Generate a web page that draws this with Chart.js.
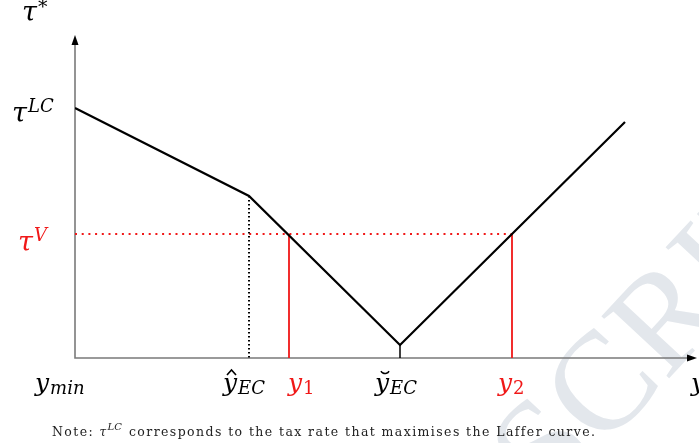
<!DOCTYPE html>
<html>
<head>
<meta charset="utf-8">
<script src="https://cdn.jsdelivr.net/npm/chart.js@4"></script>
<style>
  html, body { margin: 0; padding: 0; background: #fff; }
  #wrap { width: 699px; height: 443px; }
</style>
</head>
<body>
<div id="wrap"><canvas id="laffer"></canvas></div>
<script>
// values (axis units, origin at y_min / 0)
const curveX = [0, 174, 325, 550];
const curveY = [250, 162, 13, 236];
const tauLC = 250;
const tauV = 124;
const yHatEC = 174;
const yBrevEC = 325;
const y1 = 214;
const y2 = 437;
const xMax = 622;
const yMax = 323;

const serif = "'DejaVu Serif', 'Liberation Serif', serif";
const red = '#f01818';

const seg = (xa, ya, xb, yb) => [{x: xa, y: ya}, {x: xb, y: yb}];

const data = {
  datasets: [{
    label: 'tau*',
    data: curveX.map((x, i) => ({x: x, y: curveY[i]})),
    borderColor: '#000',
    borderWidth: 2.2
  }, {
    label: 'min tick',
    data: seg(yBrevEC, 13, yBrevEC, 0),
    borderColor: '#000',
    borderWidth: 1.5
  }, {
    label: 'yhat',
    data: seg(yHatEC, 162, yHatEC, 0),
    borderColor: '#000',
    borderWidth: 2,
    borderDash: [1.5, 2.5]
  }, {
    label: 'tauV',
    data: seg(0, tauV, y2, tauV),
    borderColor: red,
    borderWidth: 2,
    borderDash: [2, 4.7]
  }, {
    label: 'y1',
    data: seg(y1, tauV, y1, 0),
    borderColor: red,
    borderWidth: 1.8
  }, {
    label: 'y2',
    data: seg(y2, tauV, y2, 0),
    borderColor: red,
    borderWidth: 1.8
  }]
};

// draw pieces of math text: [text, size, dy, italic, gapAfter]
function mathText(ctx, parts, x, y, color) {
  ctx.fillStyle = color;
  ctx.textBaseline = 'alphabetic';
  ctx.textAlign = 'left';
  let cx = x;
  parts.forEach(p => {
    ctx.font = (p[3] === false ? '' : 'italic ') + p[1] + 'px ' + serif;
    ctx.fillText(p[0], cx, y + p[2]);
    cx += ctx.measureText(p[0]).width + (p[4] || 0);
  });
}

const axesPlugin = {
  id: 'axesPlugin',
  beforeDraw(chart) {
    const ctx = chart.ctx;
    // faint watermark
    ctx.save();
    ctx.translate(522, 482);
    ctx.rotate(-47 * Math.PI / 180);
    ctx.font = '140px ' + "'Liberation Serif', serif";
    ctx.fillStyle = '#e3e7ec';
    ctx.textBaseline = 'middle';
    ctx.fillText('SCRIPT', 0, 0);
    ctx.restore();
  },
  beforeDatasetsDraw(chart) {
    const ctx = chart.ctx;
    const xs = chart.scales.x, ys = chart.scales.y;
    const x0 = xs.getPixelForValue(0), yb = ys.getPixelForValue(0);
    const yt = ys.getPixelForValue(yMax), xr = xs.getPixelForValue(xMax);
    ctx.save();
    ctx.strokeStyle = '#7a7a7a';
    ctx.lineWidth = 1.6;
    ctx.beginPath();
    ctx.moveTo(x0, yt + 6);
    ctx.lineTo(x0, yb);
    ctx.lineTo(xr - 6, yb);
    ctx.stroke();
    ctx.fillStyle = '#000';
    ctx.beginPath();
    ctx.moveTo(x0, yt);
    ctx.lineTo(x0 - 3.5, yt + 10);
    ctx.lineTo(x0 + 3.5, yt + 10);
    ctx.closePath();
    ctx.fill();
    ctx.beginPath();
    ctx.moveTo(xr, yb);
    ctx.lineTo(xr - 10, yb - 3.5);
    ctx.lineTo(xr - 10, yb + 3.5);
    ctx.closePath();
    ctx.fill();
    ctx.restore();
  },
  afterDraw(chart) {
    const ctx = chart.ctx;
    const xs = chart.scales.x, ys = chart.scales.y;
    ctx.save();
    const lblY = 391;
    // y axis labels
    mathText(ctx, [['τ', 27, 0, true, 1], ['*', 19, -8]], 22, 21, '#000');
    mathText(ctx, [['τ', 27, 0, true, 1], ['LC', 18, -10]], 12, ys.getPixelForValue(tauLC) + 14, '#000');
    mathText(ctx, [['τ', 27, 0, true, 1], ['V', 18, -10]], 18, ys.getPixelForValue(tauV) + 17, red);
    // x axis labels
    mathText(ctx, [['y', 25, 0, true, 1], ['min', 18, 3]], 35, lblY, '#000');
    const hx = xs.getPixelForValue(yHatEC) - 26;
    mathText(ctx, [['y', 25, 0, true, 1], ['EC', 18, 3]], hx, lblY, '#000');
    mathText(ctx, [['y', 25, 0, true, 1], ['1', 18, 3, false]], xs.getPixelForValue(y1) - 1, lblY, red);
    const bx = xs.getPixelForValue(yBrevEC) - 25;
    mathText(ctx, [['y', 25, 0, true, 1], ['EC', 18, 3]], bx, lblY, '#000');
    mathText(ctx, [['y', 25, 0, true, 1], ['2', 18, 3, false]], xs.getPixelForValue(y2) - 14, lblY, red);
    mathText(ctx, [['y', 25, 0]], 691, lblY, '#000');
    // hat and breve accents
    ctx.strokeStyle = '#000';
    ctx.lineWidth = 1.6;
    ctx.beginPath();
    ctx.moveTo(hx + 4, lblY - 16);
    ctx.lineTo(hx + 8.5, lblY - 21);
    ctx.lineTo(hx + 13, lblY - 16);
    ctx.stroke();
    ctx.beginPath();
    ctx.arc(bx + 10, lblY - 22, 4.5, 0.15 * Math.PI, 0.85 * Math.PI);
    ctx.stroke();
    // note under the figure
    ctx.fillStyle = '#222';
    ctx.font = '12.5px ' + serif;
    const pre = 'Note: ', post = ' corresponds to the tax rate that maximises the Laffer curve.';
    const target = 544;
    const raw = ctx.measureText(pre + post).width + 24;
    const ls = (target - raw) / (pre.length + post.length);
    ctx.letterSpacing = ls + 'px';
    ctx.fillText(pre, 52, 436);
    let nx = 52 + ctx.measureText(pre).width;
    ctx.letterSpacing = '0px';
    ctx.font = 'italic 12px ' + serif;
    ctx.fillText('τ', nx, 436);
    ctx.font = 'italic 10px ' + serif;
    ctx.fillText('LC', nx + 8, 430);
    nx += 24;
    ctx.font = '12.5px ' + serif;
    ctx.letterSpacing = ls + 'px';
    ctx.fillText(post, nx, 436);
    ctx.restore();
  }
};

new Chart(document.getElementById('laffer').getContext('2d'), {
  type: 'line',
  data: data,
  options: {
    responsive: true,
    maintainAspectRatio: false,
    animation: false,
    layout: { padding: { left: 75, top: 35, right: 2, bottom: 85 } },
    elements: {
      point: { radius: 0, hoverRadius: 0 },
      line: { tension: 0, fill: false }
    },
    scales: {
      x: { type: 'linear', min: 0, max: xMax, display: false },
      y: { type: 'linear', min: 0, max: yMax, display: false }
    },
    plugins: {
      legend: { display: false },
      tooltip: { enabled: false }
    }
  },
  plugins: [axesPlugin]
});
</script>
</body>
</html>
